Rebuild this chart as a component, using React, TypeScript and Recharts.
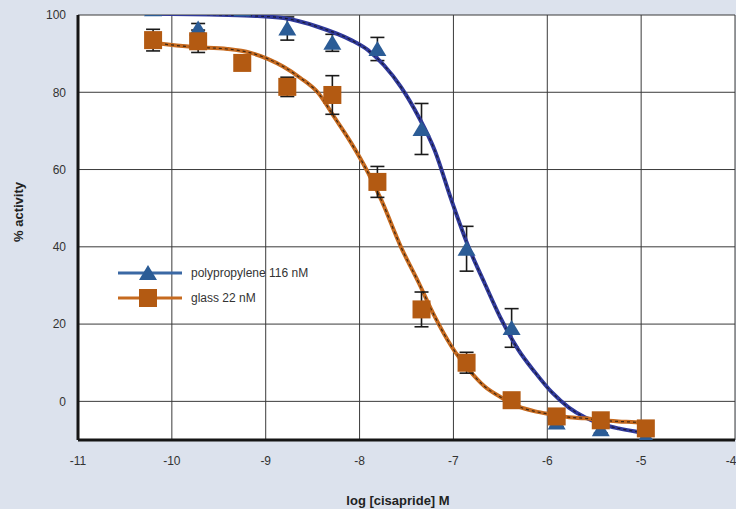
import React from "react";
import {
  ComposedChart,
  Line,
  Scatter,
  ErrorBar,
  XAxis,
  YAxis,
  CartesianGrid,
  Legend,
} from "recharts";

// log concentration of each measured point (3-fold dilutions)
const logConc = [-10.2, -9.72, -9.25, -8.77, -8.29, -7.81, -7.34, -6.86, -6.38, -5.9, -5.43, -4.95];

const ppMean = [101.5, 96.5, 101.5, 96.5, 92.8, 91.2, 70.5, 39.5, 19, -5.5, -7.2, -9];
const ppErr = [null, 1.3, null, 3, 2.2, 3, 6.6, 5.8, 5, 1, 1, 0];

const glassMean = [93.5, 93.2, 87.6, 81.4, 79.3, 56.8, 23.8, 10, 0.3, -3.9, -4.9, -7];
const glassErr = [2.8, 2.9, 1, 2.5, 5, 4, 4.5, 2.7, 0.5, 1, 0.5, 0.5];

// fitted curves
const ppFitX = [-10.2, -9.6, -9.16, -8.81, -8.44, -8.09, -7.91, -7.74, -7.56, -7.37, -7.2, -7.02, -6.84, -6.67, -6.49, -6.31, -6.13, -5.95, -5.77, -5.6, -5.42, -5.24, -5.06, -4.92];
const ppFitY = [100.3, 100.1, 99.8, 99.2, 96.9, 93.5, 90.9, 87, 81.4, 73.6, 65, 52, 40, 30.7, 21.2, 13.4, 7.5, 2.3, -1.6, -4.1, -5.9, -7, -7.8, -8.3];

const glassFitX = [-10.2, -9.77, -9.41, -9.16, -8.81, -8.63, -8.44, -8.27, -8.09, -7.91, -7.77, -7.56, -7.37, -7.2, -7.02, -6.84, -6.67, -6.49, -6.31, -6.13, -5.95, -5.77, -5.6, -5.42, -5.24, -5.06, -4.95];
const glassFitY = [92.8, 91.7, 91.2, 90.2, 86.6, 83.7, 79.8, 73.6, 66.9, 59.2, 52.2, 40, 30.7, 22, 14.2, 8.3, 3.9, 1, -1.3, -2.6, -3.4, -4.1, -4.4, -4.9, -5.2, -5.4, -5.6];

const xTicks = [-11, -10, -9, -8, -7, -6, -5, -4];
const yTicks = [0, 20, 40, 60, 80, 100];

const seriesNames = ["polypropylene 116 nM", "glass 22 nM"];

const FONT = "'Liberation Sans', Arial, Helvetica, sans-serif";
const BLUE_MARK = "#2b5c96";
const BLUE_LINE = "#30399a";
const ORANGE_MARK = "#b35a12";
const ORANGE_LINE = "#c66a1f";

const ppPoints = logConc.map((x, i) => ({ x, y: ppMean[i], err: ppErr[i] }));
const glassPoints = logConc.map((x, i) => ({ x, y: glassMean[i], err: glassErr[i] }));
const ppFit = ppFitX.map((x, i) => ({ x, y: ppFitY[i] }));
const glassFit = glassFitX.map((x, i) => ({ x, y: glassFitY[i] }));

const Triangle = ({ cx, cy }: any) =>
  cx == null ? null : (
    <polygon points={`${cx},${cy - 8} ${cx + 9},${cy + 7} ${cx - 9},${cy + 7}`} fill={BLUE_MARK} />
  );

const Square = ({ cx, cy }: any) =>
  cx == null ? null : <rect x={cx - 9} y={cy - 9} width={18} height={18} fill={ORANGE_MARK} />;

const renderLegend = () => (
  <div style={{ fontFamily: FONT, fontSize: 12, color: "#333" }}>
    {seriesNames.map((name, i) => (
      <div key={name} style={{ display: "flex", alignItems: "center", height: 25 }}>
        <svg width={74} height={22} style={{ display: "block" }}>
          <line x1={5} x2={69} y1={11} y2={11} stroke={i === 0 ? "#3a68a4" : ORANGE_LINE} strokeWidth={3} />
          {i === 0 ? (
            <polygon points="35,3 44,18 26,18" fill={BLUE_MARK} />
          ) : (
            <rect x={26} y={2} width={18} height={18} fill={ORANGE_MARK} />
          )}
        </svg>
        <span style={{ marginLeft: 4 }}>{name}</span>
      </div>
    ))}
  </div>
);

export default function App() {
  return (
    <div style={{ position: "fixed", left: 0, top: 0, width: 736, height: 509, background: "#dce2ed", overflow: "hidden" }}>
      <ComposedChart width={736} height={509} margin={{ top: 15, right: 1, bottom: 0, left: 0 }}>
        <CartesianGrid stroke="#3a3a3a" strokeWidth={1} fill="#ffffff" fillOpacity={1} />
        <XAxis
          type="number"
          dataKey="x"
          domain={[-11, -4]}
          ticks={xTicks}
          allowDataOverflow
          height={69}
          tickSize={0}
          tickMargin={16}
          axisLine={{ stroke: "#151515", strokeWidth: 3 }}
          tick={{ fill: "#333", fontSize: 12, fontFamily: FONT }}
          label={(p: any) => (
            <text x={398} y={505} textAnchor="middle" fontFamily={FONT} fontSize={13} fontWeight="bold" fill="#222">
              log [cisapride] M
            </text>
          )}
        />
        <YAxis
          type="number"
          dataKey="y"
          domain={[-10, 100]}
          ticks={yTicks}
          allowDataOverflow
          width={78}
          tickSize={0}
          tickMargin={12}
          axisLine={{ stroke: "#151515", strokeWidth: 3 }}
          tick={{ fill: "#333", fontSize: 12, fontFamily: FONT }}
          label={(p: any) => (
            <text
              transform="translate(23,212) rotate(-90)"
              textAnchor="middle"
              fontFamily={FONT}
              fontSize={13}
              fontWeight="bold"
              fill="#222"
            >
              % activity
            </text>
          )}
        />
        <Legend
          content={renderLegend}
          layout="vertical"
          align="center"
          verticalAlign="middle"
          wrapperStyle={{ left: 113, top: 260, width: "auto" }}
        />
        <Scatter name={seriesNames[0]} data={ppPoints} shape={Triangle} isAnimationActive={false} legendType="none">
          <ErrorBar dataKey="err" direction="y" width={7} stroke="#1a1a1a" strokeWidth={1.6} />
        </Scatter>
        <Line data={ppFit} dataKey="y" type="monotone" stroke={BLUE_LINE} strokeWidth={4} dot={false} isAnimationActive={false} legendType="none" />
        <Line data={ppFit} dataKey="y" type="monotone" stroke="#111" strokeOpacity={0.75} strokeWidth={1.2} strokeDasharray="3 3" dot={false} isAnimationActive={false} legendType="none" />
        <Line data={glassFit} dataKey="y" type="monotone" stroke={ORANGE_LINE} strokeWidth={4} dot={false} isAnimationActive={false} legendType="none" />
        <Line data={glassFit} dataKey="y" type="monotone" stroke="#111" strokeOpacity={0.75} strokeWidth={1.2} strokeDasharray="3 3" dot={false} isAnimationActive={false} legendType="none" />
        <Scatter name={seriesNames[1]} data={glassPoints} shape={Square} isAnimationActive={false} legendType="none">
          <ErrorBar dataKey="err" direction="y" width={7} stroke="#1a1a1a" strokeWidth={1.6} />
        </Scatter>
      </ComposedChart>
    </div>
  );
}
